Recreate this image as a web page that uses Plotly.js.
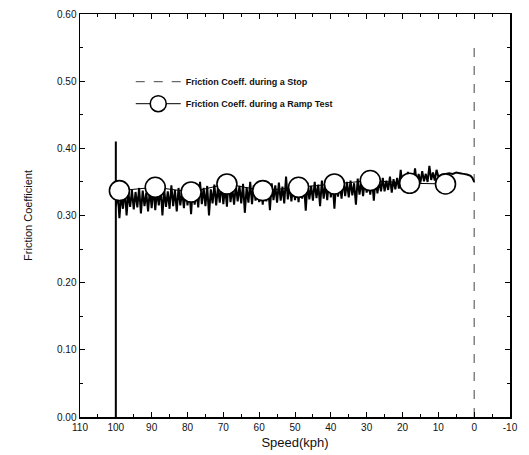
<!DOCTYPE html>
<html>
<head>
<meta charset="utf-8">
<script src="https://cdn.plot.ly/plotly-3.0.1.min.js"></script>
<style>html,body{margin:0;padding:0;background:#fff;}#chart{width:529px;height:455px;}</style>
</head>
<body>
<div id="chart"></div>
<script>
// Friction coefficient during a stop (dense noisy record), speed in kph
const stopSpeed = [
  100, 100, 100,
  100, 99.5, 99, 98.5, 98, 97.5, 97, 96.5, 96, 95.5,
  95, 94.5, 94, 93.5, 93, 92.5, 92, 91.5, 91, 90.5,
  90, 89.5, 89, 88.5, 88, 87.5, 87, 86.5, 86, 85.5,
  85, 84.5, 84, 83.5, 83, 82.5, 82, 81.5, 81, 80.5,
  80, 79.5, 79, 78.5, 78, 77.5, 77, 76.5, 76, 75.5,
  75, 74.5, 74, 73.5, 73, 72.5, 72, 71.5, 71, 70.5,
  70, 69.5, 69, 68.5, 68, 67.5, 67, 66.5, 66, 65.5,
  65, 64.5, 64, 63.5, 63, 62.5, 62, 61.5, 61, 60.5,
  60, 59.5, 59, 58.5, 58, 57.5, 57, 56.5, 56, 55.5,
  55, 54.5, 54, 53.5, 53, 52.5, 52, 51.5, 51, 50.5,
  50, 49.5, 49, 48.5, 48, 47.5, 47, 46.5, 46, 45.5,
  45, 44.5, 44, 43.5, 43, 42.5, 42, 41.5, 41, 40.5,
  40, 39.5, 39, 38.5, 38, 37.5, 37, 36.5, 36, 35.5,
  35, 34.5, 34, 33.5, 33, 32.5, 32, 31.5, 31, 30.5,
  30, 29.5, 29, 28.5, 28, 27.5, 27, 26.5, 26, 25.5,
  25, 24.5, 24, 23.5, 23, 22.5, 22, 21.5, 21, 20.5,
  20, 19.5, 19, 18.5, 18, 17.5, 17, 16.5, 16, 15.5,
  15, 14.5, 14, 13.5, 13, 12.5, 12, 11.5, 11, 10.5,
  10, 9, 8, 7, 6, 5, 4, 3, 2, 1, 0.5, 0
];
const stopFriction = [
  0.000, 0.410, 0.290,
  0.312, 0.336, 0.296, 0.332, 0.310, 0.340, 0.300, 0.334, 0.313, 0.338,
  0.309, 0.335, 0.312, 0.341, 0.303, 0.337, 0.314, 0.334, 0.306, 0.339,
  0.311, 0.342, 0.308, 0.337, 0.315, 0.343, 0.300, 0.338, 0.313, 0.336,
  0.310, 0.345, 0.314, 0.338, 0.306, 0.341, 0.315, 0.337, 0.311, 0.342,
  0.315, 0.340, 0.302, 0.343, 0.316, 0.338, 0.312, 0.350, 0.317, 0.341,
  0.314, 0.344, 0.300, 0.339, 0.318, 0.346, 0.315, 0.342, 0.319, 0.348,
  0.317, 0.343, 0.313, 0.355, 0.320, 0.341, 0.316, 0.345, 0.321, 0.344,
  0.318, 0.347, 0.304, 0.342, 0.319, 0.350, 0.317, 0.345, 0.322, 0.340,
  0.320, 0.346, 0.316, 0.352, 0.321, 0.344, 0.308, 0.348, 0.323, 0.345,
  0.319, 0.349, 0.322, 0.343, 0.318, 0.358, 0.324, 0.346, 0.321, 0.347,
  0.323, 0.345, 0.320, 0.351, 0.325, 0.347, 0.307, 0.349, 0.324, 0.344,
  0.322, 0.350, 0.326, 0.346, 0.314, 0.352, 0.325, 0.348, 0.323, 0.356,
  0.327, 0.349, 0.310, 0.351, 0.328, 0.347, 0.325, 0.353, 0.329, 0.350,
  0.327, 0.352, 0.330, 0.348, 0.316, 0.355, 0.331, 0.351, 0.329, 0.353,
  0.334, 0.350, 0.331, 0.354, 0.322, 0.357, 0.333, 0.352, 0.336, 0.356,
  0.336, 0.352, 0.338, 0.358, 0.334, 0.354, 0.339, 0.356, 0.340, 0.368,
  0.343, 0.357, 0.346, 0.365, 0.344, 0.359, 0.348, 0.370, 0.347, 0.362,
  0.349, 0.366, 0.351, 0.362, 0.350, 0.374, 0.353, 0.364, 0.352, 0.368,
  0.358, 0.361, 0.362, 0.363, 0.362, 0.364, 0.363, 0.362, 0.361, 0.359, 0.356, 0.350
];
// Vertical trace at the end of the stop (speed 0)
const stopEndSpeed = [0, 0];
const stopEndFriction = [0.0, 0.55];

// Friction coefficient during a ramp test
const rampSpeed = [99, 89, 79, 69, 59, 49, 39, 29, 18, 8];
const rampFriction = [0.337, 0.342, 0.335, 0.347, 0.337, 0.342, 0.347, 0.352, 0.348, 0.347];

const xTickVals = [110, 100, 90, 80, 70, 60, 50, 40, 30, 20, 10, 0, -10];
const xTickText = ['110', '100', '90', '80', '70', '60', '50', '40', '30', '20', '10', '0', '-10'];
const yTickVals = [0.0, 0.1, 0.2, 0.3, 0.4, 0.5, 0.6];

const FONT = 'Liberation Sans, Arial, sans-serif';

const traces = [
  {
    x: stopEndSpeed, y: stopEndFriction, type: 'scatter', mode: 'lines',
    name: 'Friction Coeff. during a Stop', legendgroup: 'a',
    line: {color: '#444', width: 1, dash: 'dash'}
  },
  {
    x: stopSpeed, y: stopFriction, type: 'scatter', mode: 'lines',
    showlegend: false, legendgroup: 'a',
    line: {color: '#000', width: 2, simplify: false}
  },
  {
    x: rampSpeed, y: rampFriction, type: 'scatter', mode: 'lines+markers',
    name: 'Friction Coeff. during a Ramp Test', legendgroup: 'b',
    line: {color: '#000', width: 1},
    marker: {symbol: 'circle', size: 20, color: '#fff', line: {color: '#000', width: 1.6}}
  }
];

const layout = {
  width: 529, height: 455,
  margin: {l: 80, r: 19, t: 14, b: 38},
  paper_bgcolor: '#fff', plot_bgcolor: '#fff',
  font: {family: FONT, color: '#111', size: 10},
  showlegend: true,
  legend: {
    x: 0.118, y: 0.868, xanchor: 'left', yanchor: 'top',
    bgcolor: 'rgba(0,0,0,0)', borderwidth: 0,
    font: {family: FONT, size: 9, color: '#111', weight: 'bold'},
    itemwidth: 45, tracegroupgap: 3
  },
  xaxis: {
    range: [110, -10], autorange: false,
    tickmode: 'array', tickvals: xTickVals, ticktext: xTickText,
    ticks: 'inside', ticklen: 5, tickwidth: 1, tickcolor: '#000',
    minor: {dtick: 5, tick0: 0, ticks: 'inside', ticklen: 3, tickcolor: '#000', showgrid: false},
    showline: true, linecolor: '#000', linewidth: 1.5, mirror: 'ticks',
    showgrid: false, zeroline: false,
    tickfont: {family: FONT, size: 10, color: '#111'},
    title: {text: 'Speed(kph)', font: {family: FONT, size: 13, color: '#111'}, standoff: 6}
  },
  yaxis: {
    range: [0, 0.6], autorange: false,
    tickmode: 'array', tickvals: yTickVals, tickformat: '.2f',
    ticks: 'inside', ticklen: 5, tickwidth: 1, tickcolor: '#000',
    minor: {dtick: 0.05, tick0: 0, ticks: 'inside', ticklen: 3, tickcolor: '#000', showgrid: false},
    showline: true, linecolor: '#000', linewidth: 1.5, mirror: 'ticks',
    showgrid: false, zeroline: false,
    tickfont: {family: FONT, size: 10, color: '#111'},
    title: {text: 'Friction Coefficient', font: {family: FONT, size: 11, color: '#111'}, standoff: 22}
  }
};

Plotly.newPlot('chart', traces, layout, {staticPlot: true, displayModeBar: false});
</script>
</body>
</html>
